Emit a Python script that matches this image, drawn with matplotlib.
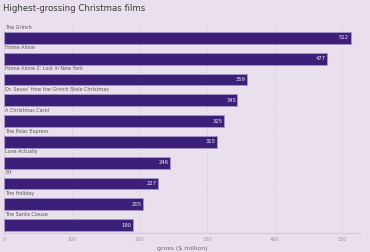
import matplotlib.pyplot as plt
import numpy as np

# data
films = ['The Grinch', 'Home Alone', 'Home Alone 2: Lost in New York',
         "Dr. Seuss' How the Grinch Stole Christmas", 'A Christmas Carol',
         'The Polar Express', 'Love Actually', 'Elf', 'The Holiday',
         'The Santa Clause']
gross = [512, 477, 359, 345, 325, 315, 246, 227, 205, 190]
ticks = [0, 100, 200, 300, 400, 500]

bg = '#eadfec'
bar_col = '#3c1f78'

fig = plt.figure(figsize=(3.7, 2.52), dpi=100, facecolor=bg)
ax = fig.add_axes([4 / 370, 1 - 233 / 252, 356 / 370, 207 / 252])
ax.set_facecolor(bg)

y = np.arange(len(films))
ax.barh(y, gross, height=0.57, color=bar_col, edgecolor='#a796c8',
        linewidth=0.6, zorder=3)

for i, (name, v) in enumerate(zip(films, gross)):
    ax.text(2, i - 0.52, name, fontsize=3.5, color='#555555',
            va='center', ha='left')
    ax.text(v - 2, i, str(v), fontsize=3.8, color='#f0ecf5',
            va='center', ha='right', zorder=4)

ax.set_xlim(0, 526)
ax.set_ylim(9.385, -0.577)
ax.set_xticks(ticks)
ax.set_xticklabels([str(t) for t in ticks], fontsize=3.5, color='#999999')
ax.set_yticks([])
ax.tick_params(axis='x', length=0, pad=3)
ax.grid(axis='x', color='#cfc3d3', linestyle=(0, (1, 1.5)), linewidth=0.7,
        zorder=0)
for s in ['top', 'right', 'left']:
    ax.spines[s].set_visible(False)
ax.spines['bottom'].set_color('#d6cbd9')
ax.spines['bottom'].set_linewidth(1.0)

ax.set_xlabel('gross ($ million)', fontsize=4.5, color='#666666', labelpad=3)
fig.text(0.008, 0.965, 'Highest-grossing Christmas films', fontsize=6.2,
         color='#3a3a3a', va='center', ha='left')

fig.savefig('out.png', dpi=100, facecolor=bg)
